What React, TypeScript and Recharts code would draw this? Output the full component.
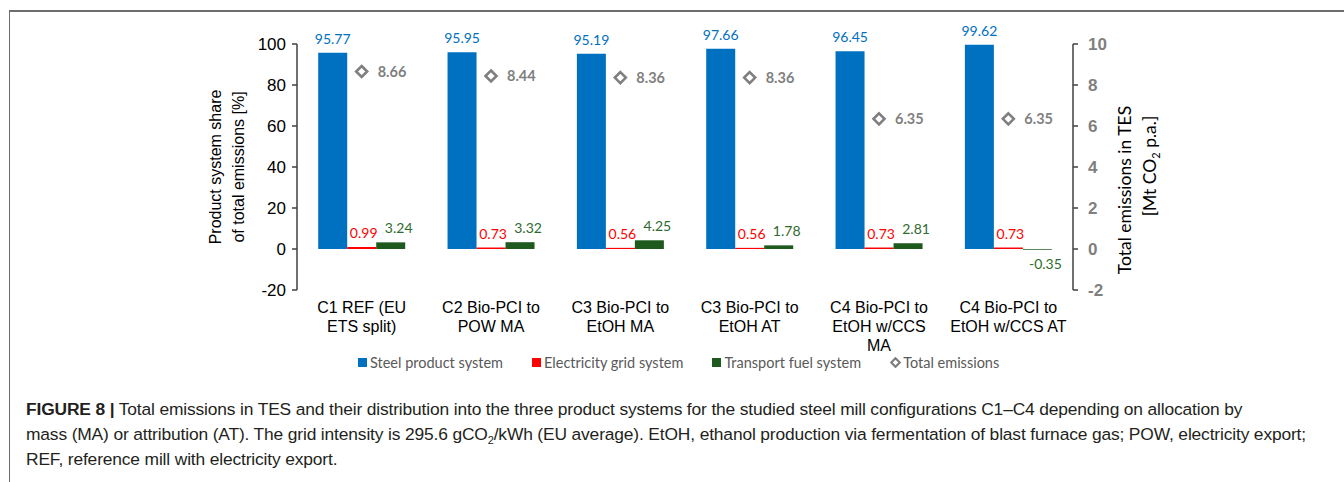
import React from 'react';
import { ComposedChart, Bar, Line, XAxis, YAxis, Legend, LabelList } from 'recharts';

const categories = [
  'C1 REF (EU\nETS split)',
  'C2 Bio-PCI to\nPOW MA',
  'C3 Bio-PCI to\nEtOH MA',
  'C3 Bio-PCI to\nEtOH AT',
  'C4 Bio-PCI to\nEtOH w/CCS\nMA',
  'C4 Bio-PCI to\nEtOH w/CCS AT',
];
const steelShare = [95.77, 95.95, 95.19, 97.66, 96.45, 99.62];
const gridShare = [0.99, 0.73, 0.56, 0.56, 0.73, 0.73];
const fuelShare = [3.24, 3.32, 4.25, 1.78, 2.81, -0.35];
const totalEmissions = [8.66, 8.44, 8.36, 8.36, 6.35, 6.35];
const leftTicks = [-20, 0, 20, 40, 60, 80, 100];
const rightTicks = [-2, 0, 2, 4, 6, 8, 10];

const data = categories.map((name, i) => ({
  name,
  steel: steelShare[i],
  grid: gridShare[i],
  fuel: fuelShare[i],
  total: totalEmissions[i],
}));

const BLUE = '#0070C0';
const RED = '#FF0000';
const GREEN = '#1E5A1E';
const GRAY = '#7F7F7F';
const AXIS = '#404040';
const LABEL_FONT = 'Lato, "Open Sans", sans-serif';
const ARIAL = '"Liberation Sans", Arial, sans-serif';

const CategoryTick = (props: any) => {
  const { x, y, payload } = props;
  const lines = String(payload.value).split('\n');
  return (
    <text x={x} y={y} textAnchor="middle" fontFamily={ARIAL} fontSize={16} fill="#000">
      {lines.map((l, i) => (
        <tspan key={i} x={x} dy={i === 0 ? '0.71em' : 19}>
          {l}
        </tspan>
      ))}
    </text>
  );
};

// excel-style value label, above the bar (below when negative)
const barLabel = (color: string, shift = 0) => (props: any) => {
  const { x, y, width, height, value } = props;
  const top = Math.min(y, y + height);
  const bottom = Math.max(y, y + height);
  const neg = value < 0;
  return (
    <text
      x={x + width / 2 + shift}
      y={neg ? bottom + 19 : top - 9}
      textAnchor="middle"
      fontFamily={LABEL_FONT}
      fontSize={14}
      fill={color}
    >
      {Number(value).toFixed(2)}
    </text>
  );
};

const Diamond = (props: any) => {
  const { cx, cy } = props;
  if (cx == null || cy == null) return null;
  const r = 5.5;
  return (
    <polygon
      points={`${cx},${cy - r} ${cx + r},${cy} ${cx},${cy + r} ${cx - r},${cy}`}
      fill="#fff"
      stroke={GRAY}
      strokeWidth={2.6}
    />
  );
};

const totalLabel = (props: any) => {
  const { x, y, value } = props;
  return (
    <text x={x + 16} y={y} dy="0.35em" fontFamily={LABEL_FONT} fontWeight={700} fontSize={14.5} fill={GRAY}>
      {Number(value).toFixed(2)}
    </text>
  );
};

const legendItems = [
  { label: 'Steel product system', color: BLUE, type: 'square' },
  { label: 'Electricity grid system', color: RED, type: 'square' },
  { label: 'Transport fuel system', color: GREEN, type: 'square' },
  { label: 'Total emissions', color: GRAY, type: 'diamond' },
];

const renderLegend = () => (
  <div
    style={{
      display: 'flex',
      alignItems: 'center',
      height: 24,
      width: 1344,
      boxSizing: 'border-box',
      paddingLeft: 358,
      fontFamily: LABEL_FONT,
      fontSize: 14.5,
      color: '#595959',
    }}
  >
    {legendItems.map((it) => (
      <div key={it.label} style={{ display: 'flex', alignItems: 'center', marginRight: 29 }}>
        {it.type === 'square' ? (
          <span style={{ width: 9, height: 9, background: it.color, marginRight: 3, display: 'inline-block' }} />
        ) : (
          <svg width={11} height={11} style={{ marginRight: 2 }}>
            <polygon points="5.5,1.2 9.8,5.5 5.5,9.8 1.2,5.5" fill="#fff" stroke={it.color} strokeWidth={2.2} />
          </svg>
        )}
        <span>{it.label}</span>
      </div>
    ))}
  </div>
);

export default function App() {
  return (
    <div style={{ position: 'absolute', left: 0, top: 0, width: 1344, height: 482, background: '#fff', overflow: 'hidden' }}>
      <div
        style={{
          position: 'absolute',
          left: 9,
          top: 10,
          width: 1400,
          height: 500,
          borderTop: '2px solid #6e6e6e',
          borderLeft: '1.5px solid #6e6e6e',
        }}
      />
      <div style={{ position: 'absolute', left: 0, top: 0 }}>
        <ComposedChart
          width={1344}
          height={380}
          data={data}
          margin={{ top: 44, right: 211, left: 237, bottom: 6 }}
          barCategoryGap="16.4%"
          barGap={0}
        >
          <XAxis
            dataKey="name"
            axisLine={false}
            tickLine={false}
            tickSize={0}
            tickMargin={12}
            height={60}
            interval={0}
            tick={<CategoryTick />}
          />
          <YAxis
            yAxisId="left"
            domain={[-20, 100]}
            ticks={leftTicks}
            width={60}
            axisLine={{ stroke: AXIS, strokeWidth: 1.5 }}
            tickLine={{ stroke: AXIS, strokeWidth: 1.5 }}
            tickSize={5}
            tickMargin={6}
            tick={{ fill: '#000', fontSize: 17, fontFamily: ARIAL }}
            label={{
              content: () => (
                <text fontFamily={ARIAL} fontSize={16} fill="#000" textAnchor="middle" transform="translate(215,167) rotate(-90)">
                  <tspan x={0} dy="0.35em">Product system share</tspan>
                  <tspan x={0} dy={23}>of total emissions [%]</tspan>
                </text>
              ),
            }}
          />
          <YAxis
            yAxisId="right"
            orientation="right"
            domain={[-2, 10]}
            ticks={rightTicks}
            width={60}
            axisLine={{ stroke: AXIS, strokeWidth: 1.5 }}
            tickLine={{ stroke: AXIS, strokeWidth: 1.5 }}
            tickSize={5}
            tickMargin={10}
            tick={{ fill: GRAY, fontSize: 17, fontWeight: 700, fontFamily: ARIAL }}
            label={{
              content: () => (
                <g fontFamily={LABEL_FONT} fontSize={17.5} fill="#000" textAnchor="middle">
                  <text transform="translate(1125,190) rotate(-90)" dy="0.35em">
                    Total emissions in TES
                  </text>
                  <text transform="translate(1150,166) rotate(-90)" dy="0.35em">
                    [Mt CO
                    <tspan fontSize={11} dy={4}>2</tspan>
                    <tspan dy={-4}> p.a.]</tspan>
                  </text>
                </g>
              ),
            }}
          />
          <Legend verticalAlign="bottom" content={renderLegend} wrapperStyle={{ left: 0, width: 1344 }} />
          <Bar yAxisId="left" dataKey="steel" name="Steel product system" fill={BLUE} isAnimationActive={false}>
            <LabelList dataKey="steel" content={barLabel(BLUE)} />
          </Bar>
          <Bar yAxisId="left" dataKey="grid" name="Electricity grid system" fill={RED} isAnimationActive={false}>
            <LabelList dataKey="grid" content={barLabel(RED, 2)} />
          </Bar>
          <Bar yAxisId="left" dataKey="fuel" name="Transport fuel system" fill={GREEN} isAnimationActive={false}>
            <LabelList dataKey="fuel" content={barLabel('#2E6B2E', 8)} />
          </Bar>
          <Line
            yAxisId="right"
            dataKey="total"
            name="Total emissions"
            stroke="none"
            dot={<Diamond />}
            activeDot={false}
            isAnimationActive={false}
          >
            <LabelList dataKey="total" content={totalLabel} />
          </Line>
        </ComposedChart>
      </div>
      <div
        style={{
          position: 'absolute',
          left: 26,
          top: 397,
          width: 1310,
          fontFamily: '"Liberation Sans", Arial, sans-serif',
          fontSize: 17.4,
          letterSpacing: -0.15,
          lineHeight: '25px',
          color: '#231f20',
          whiteSpace: 'nowrap',
        }}
      >
        <b>FIGURE 8 |</b> Total emissions in TES and their distribution into the three product systems for the studied steel mill configurations C1–C4 depending on allocation by
        <br />
        mass (MA) or attribution (AT). The grid intensity is 295.6 gCO<sub style={{ fontSize: 11, lineHeight: 0 }}>2</sub>/kWh (EU average). EtOH, ethanol production via fermentation of blast furnace gas; POW, electricity export;
        <br />
        REF, reference mill with electricity export.
      </div>
    </div>
  );
}
